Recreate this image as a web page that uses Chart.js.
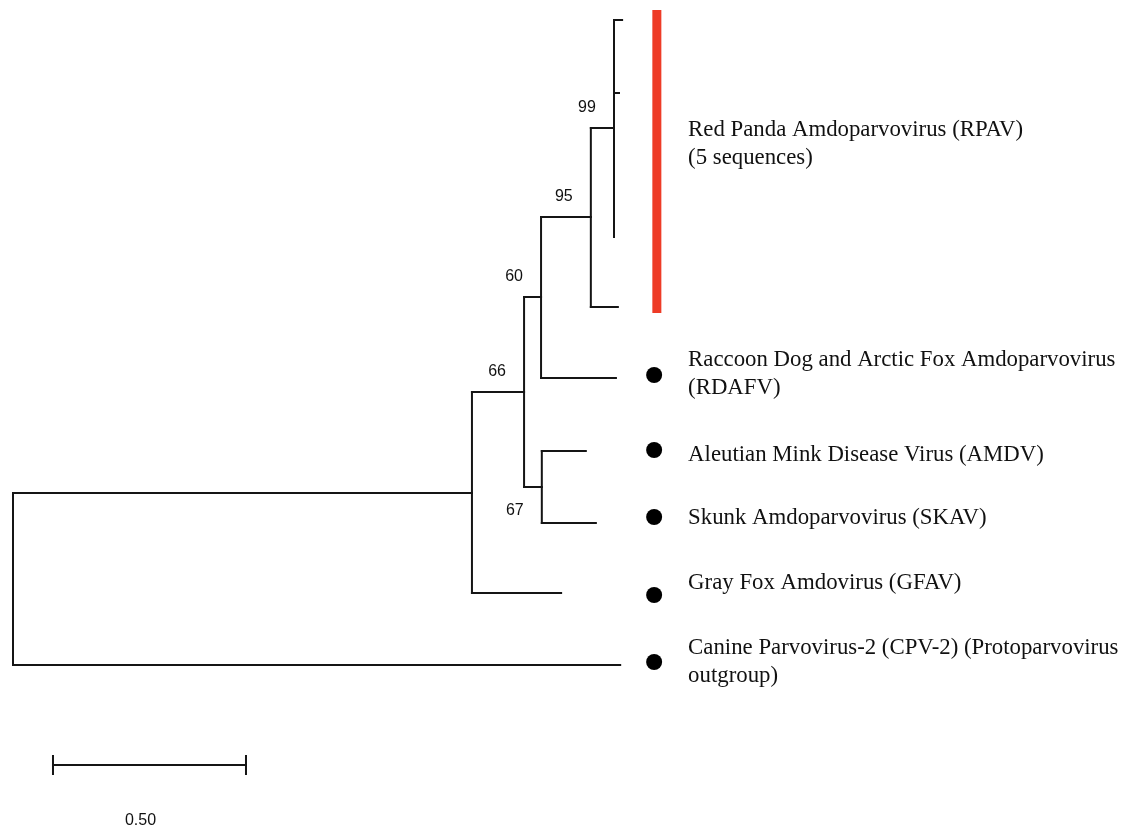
<!DOCTYPE html>
<html><head><meta charset="utf-8">
<script src="https://cdn.jsdelivr.net/npm/chart.js@4"></script>
<style>html,body{margin:0;padding:0;background:#fff;overflow:hidden}canvas{display:block}</style>
</head><body>
<canvas id="c" width="1133" height="829"></canvas>
<script>
// ---- Tree data (depth = substitutions/site from root, row = vertical slot) ----
const nodeIds    = ['root','n66','nA','n60','n95','n99','n67','rp1','rp2','rp3','rp4','rp5','rdafv','amdv','skav','gfav','cpv'];
const nodeParent = [null,'root','n66','nA','n60','n95','nA','n99','n99','n99','n99','n95','n60','n67','n67','n66','root'];
const nodeDepth  = [0,1.189,1.324,1.368,1.497,1.557,1.370,1.578,1.570,1.557,1.557,1.567,1.562,1.484,1.510,1.420,1.573];
const nodeRow    = [579,493,392,297,217,128,487,20,93,165,237,307,378,451,523,593,665];

// bootstrap support values
const supportNodes  = ['n99','n95','n60','nA','n67'];
const supportValues = ['99','95','60','66','67'];
const supportBelow  = [false,false,false,false,true];

// tip labels
const labelLines = [
  ['Red Panda Amdoparvovirus (RPAV)','(5 sequences)'],
  ['Raccoon Dog and Arctic Fox Amdoparvovirus','(RDAFV)'],
  ['Aleutian Mink Disease Virus (AMDV)'],
  ['Skunk Amdoparvovirus (SKAV)'],
  ['Gray Fox Amdovirus (GFAV)'],
  ['Canine Parvovirus-2 (CPV-2) (Protoparvovirus','outgroup)']
];
const labelRows = [130,360,455,518,583,648];
const labelDepth = 1.749;

// markers
const bulletRows = [375,450,517,595,662];
const bulletDepth = 1.661;
const cladeBarDepth = 1.668;
const cladeBarRows = [10,313];

// scale bar
const scaleBarStart = 0.1036;
const scaleBarLength = 0.50;
const scaleBarRow = 765;
const scaleBarLabel = '0.50';

// ---- build segments ----
const idx = id => nodeIds.indexOf(id);
const segs = [];
nodeIds.forEach((id,i) => {
  const p = nodeParent[i];
  if (p !== null) {
    segs.push([{x:nodeDepth[idx(p)], y:nodeRow[i]},{x:nodeDepth[i], y:nodeRow[i]}]);
  }
  const kids = nodeIds.map((k,j)=>j).filter(j=>nodeParent[j]===id);
  if (kids.length) {
    const rows = kids.map(j=>nodeRow[j]);
    segs.push([{x:nodeDepth[i], y:Math.min(...rows)},{x:nodeDepth[i], y:Math.max(...rows)}]);
  }
});
// scale bar segments
segs.push([{x:scaleBarStart,y:scaleBarRow},{x:scaleBarStart+scaleBarLength,y:scaleBarRow}]);
segs.push([{x:scaleBarStart,y:scaleBarRow-9},{x:scaleBarStart,y:scaleBarRow+9}]);
segs.push([{x:scaleBarStart+scaleBarLength,y:scaleBarRow-9},{x:scaleBarStart+scaleBarLength,y:scaleBarRow+9}]);

const LINE = '#151515';
const datasets = segs.map(s => ({
  data: s, showLine: true, borderColor: LINE, borderWidth: 2,
  pointRadius: 0, borderCapStyle: 'square', clip: false
}));
datasets.push({
  data: cladeBarRows.map(r=>({x:cladeBarDepth,y:r})), showLine:true,
  borderColor:'#ee3b26', borderWidth:9, pointRadius:0, borderCapStyle:'butt', clip:false
});
datasets.push({
  data: bulletRows.map(r=>({x:bulletDepth,y:r})), showLine:false,
  pointRadius:8, pointBackgroundColor:'#000', pointBorderWidth:0, clip:false
});

const textPlugin = {
  id:'texts',
  afterDatasetsDraw(chart){
    const ctx = chart.ctx, xs = chart.scales.x, ys = chart.scales.y;
    ctx.save();
    ctx.fillStyle = '#111';
    // tip labels
    ctx.font = '22.8px "Liberation Serif", "Times New Roman", serif';
    ctx.textAlign = 'left'; ctx.textBaseline = 'middle';
    labelLines.forEach((lines,i) => {
      lines.forEach((t,k) => {
        ctx.fillText(t, xs.getPixelForValue(labelDepth), ys.getPixelForValue(labelRows[i]) + k*28);
      });
    });
    // support values
    ctx.font = '16px "Liberation Sans", Arial, sans-serif';
    ctx.textAlign = 'center';
    supportNodes.forEach((id,i) => {
      const j = idx(id);
      const px = xs.getPixelForValue(nodeDepth[j]) - 27;
      const py = ys.getPixelForValue(nodeRow[j]) + (supportBelow[i] ? 24 : -20);
      ctx.fillText(supportValues[i], px, py);
    });
    // scale label
    ctx.fillText(scaleBarLabel, xs.getPixelForValue(scaleBarStart+scaleBarLength/2) - 9, ys.getPixelForValue(scaleBarRow)+56);
    ctx.restore();
  }
};

new Chart(document.getElementById('c'), {
  type:'scatter',
  data:{datasets},
  options:{
    responsive:false, animation:false, devicePixelRatio:1,
    layout:{padding:0, autoPadding:false},
    plugins:{legend:{display:false}, tooltip:{enabled:false}},
    events:[],
    scales:{
      x:{type:'linear', display:false, min:-13/386, max:1120/386},
      y:{type:'linear', display:false, min:0, max:829, reverse:true}
    }
  },
  plugins:[textPlugin]
});
</script>
</body></html>
